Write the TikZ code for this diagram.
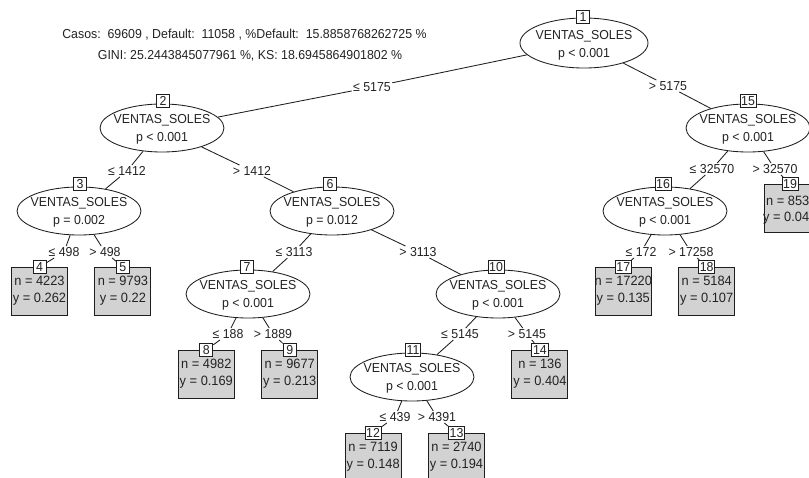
\documentclass[tikz,border=0pt]{standalone}
\usepackage{fontspec}
\setmainfont{Liberation Sans}[FakeStretch=0.95]
\usetikzlibrary{shapes.geometric}
\definecolor{linec}{RGB}{30,30,30}
\definecolor{textc}{RGB}{35,35,35}
\definecolor{leafc}{RGB}{210,210,210}
\newcommand{\trfont}{\fontsize{13}{18}\selectfont}
\newcommand{\lffont}{\fontsize{13.5}{17}\selectfont}
\begin{document}
\begin{tikzpicture}[x=1pt,y=-1pt,
  inode/.style={ellipse, draw=linec, fill=white, line width=0.85pt, minimum width=124pt, minimum height=48pt, inner sep=0pt},
  etext/.style={font=\trfont, text=textc, align=center, inner sep=0pt},
  numbox/.style={draw=linec, fill=white, line width=0.85pt, minimum width=13pt, minimum height=13pt, inner sep=1.2pt, font=\trfont, text=textc},
  leafbox/.style={draw=linec, fill=leafc, line width=0.85pt, minimum width=56pt, minimum height=48pt, inner sep=0pt, anchor=north},
  leaftext/.style={font=\lffont, text=textc, align=center, inner sep=0pt},
  elab/.style={font=\trfont, text=textc, fill=white, inner sep=1.2pt},
  edge/.style={draw=linec, line width=0.85pt},
  head/.style={font=\trfont, text=textc, inner sep=0pt}]
\useasboundingbox (0,0) rectangle (809,477);
\clip (0,0) rectangle (809,477);
\fill[white] (0,0) rectangle (809,477);

% header
\node[head] (h1) at (244.5,35) {Casos:\ \ 69609 , Default:\ \ 11058 , \%Default:\ \ 15.8858768262725 \%};
\node[head] (h2) at (250,56) {GINI: 25.2443845077961 \%, KS: 18.6945864901802 \%};

% inner nodes
\node[inode, minimum width=128pt, minimum height=50pt] (n1) at (584,43) {};
\node[etext] (t1) at (584,45) {VENTAS\_SOLES\\p < 0.001};
\node[numbox] (b1) at (583,17) {1};

\node[inode] (n2) at (162,128) {};
\node[etext] (t2) at (162,129) {VENTAS\_SOLES\\p < 0.001};
\node[numbox] (b2) at (163,101) {2};

\node[inode] (n15) at (748,128) {};
\node[etext] (t15) at (748,129) {VENTAS\_SOLES\\p < 0.001};
\node[numbox] (b15) at (748,101) {15};

\node[inode] (n3) at (79,211) {};
\node[etext] (t3) at (79,212) {VENTAS\_SOLES\\p = 0.002};
\node[numbox] (b3) at (80,184) {3};

\node[inode] (n6) at (332,211) {};
\node[etext] (t6) at (332,212) {VENTAS\_SOLES\\p = 0.012};
\node[numbox] (b6) at (330,184) {6};

\node[inode] (n16) at (665,211) {};
\node[etext] (t16) at (665,212) {VENTAS\_SOLES\\p < 0.001};
\node[numbox] (b16) at (663,184) {16};

\node[inode] (n7) at (248,294) {};
\node[etext] (t7) at (248,295) {VENTAS\_SOLES\\p < 0.001};
\node[numbox] (b7) at (247,267) {7};

\node[inode] (n10) at (498,294) {};
\node[etext] (t10) at (498,295) {VENTAS\_SOLES\\p < 0.001};
\node[numbox] (b10) at (496,267) {10};

\node[inode] (n11) at (412,377) {};
\node[etext] (t11) at (412,378) {VENTAS\_SOLES\\p < 0.001};
\node[numbox] (b11) at (413,350) {11};

% leaves
\newcommand{\leafnode}[5]{%
  \node[leafbox] (f#1) at (#2,#3) {};
  \begin{scope}
    \clip (f#1.south west) rectangle (f#1.north east);
    \node[leaftext] (ft#1) at (#2,#3+24) {n = #4\\y = #5};
  \end{scope}
  \node[numbox] (b#1) at (#2,#3) {#1};
}
\leafnode{4}{39.5}{267}{4223}{0.262}
\leafnode{5}{122.9}{267}{9793}{0.22}
\leafnode{8}{206.3}{350}{4982}{0.169}
\leafnode{9}{289.7}{350}{9677}{0.213}
\leafnode{12}{373.1}{433}{7119}{0.148}
\leafnode{13}{456.5}{433}{2740}{0.194}
\leafnode{14}{539.9}{350}{136}{0.404}
\leafnode{17}{623.3}{267}{17220}{0.135}
\leafnode{18}{706.7}{267}{5184}{0.107}

\node[leafbox] (f19) at (792,184) {};
\node[leaftext, anchor=west] (ft19a) at (766,201) {n = 853};
\node[leaftext, anchor=west] (ft19b) at (763,218) {y = 0.04};
\node[numbox] (b19) at (790,184) {19};

% edge labels
\node[elab] (e2) at (372,87) {≤ 5175};
\node[elab] (e15) at (668,86) {> 5175};
\node[elab] (e3) at (127,171) {≤ 1412};
\node[elab] (e6) at (252,171) {> 1412};
\node[elab] (e4) at (64,252) {≤ 498};
\node[elab] (e5) at (105,252) {> 498};
\node[elab] (e7) at (294,252) {≤ 3113};
\node[elab] (e10) at (418,252) {> 3113};
\node[elab] (e8) at (228,334) {≤ 188};
\node[elab] (e9) at (273,334) {> 1889};
\node[elab] (e11) at (460,334) {≤ 5145};
\node[elab] (e14) at (527,334) {> 5145};
\node[elab] (e12) at (395,417) {≤ 439};
\node[elab] (e13) at (437,417) {> 4391};
\node[elab] (e16) at (712,169) {≤ 32570};
\node[elab] (e19) at (775,169) {> 32570};
\node[elab] (e17) at (641,252) {≤ 172};
\node[elab] (e18) at (691,252) {> 17258};

% edges
\draw[edge] (n1) -- (e2) -- (n2);
\draw[edge] (n1) -- (e15) -- (n15);
\draw[edge] (n2) -- (e3) -- (n3);
\draw[edge] (n2) -- (e6) -- (n6);
\draw[edge] (n3) -- (e4) -- (b4);
\draw[edge] (n3) -- (e5) -- (b5);
\draw[edge] (n6) -- (e7) -- (n7);
\draw[edge] (n6) -- (e10) -- (n10);
\draw[edge] (n7) -- (e8) -- (b8);
\draw[edge] (n7) -- (e9) -- (b9);
\draw[edge] (n10) -- (e11) -- (n11);
\draw[edge] (n10) -- (e14) -- (b14);
\draw[edge] (n11) -- (e12) -- (b12);
\draw[edge] (n11) -- (e13) -- (b13);
\draw[edge] (n15) -- (e16) -- (n16);
\draw[edge] (n15) -- (e19) -- (b19);
\draw[edge] (n16) -- (e17) -- (b17);
\draw[edge] (n16) -- (e18) -- (b18);
\end{tikzpicture}
\end{document}
